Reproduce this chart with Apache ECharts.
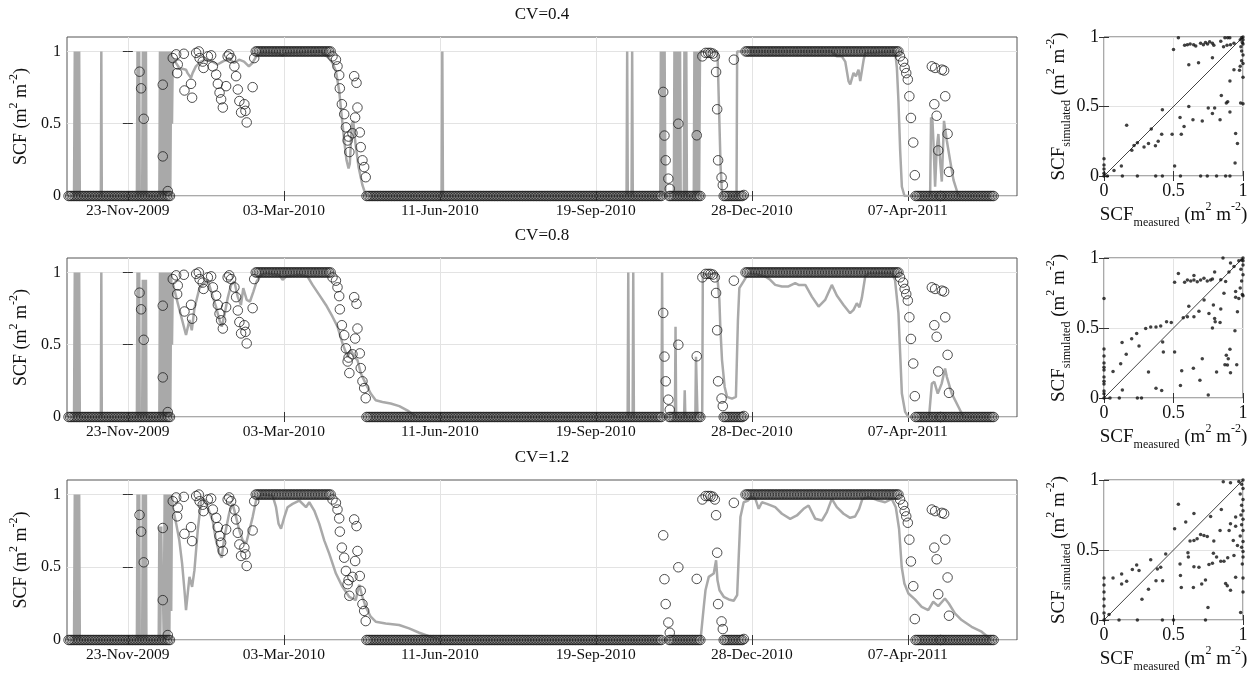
<!DOCTYPE html>
<html>
<head>
<meta charset="utf-8">
<script src="https://cdn.jsdelivr.net/npm/echarts@6.0.0/dist/echarts.min.js"></script>
<style>
  html, body { margin: 0; padding: 0; background: #fff; }
  #main { width: 1258px; height: 675px; }
</style>
</head>
<body>
<div id="main"></div>
<script>
// x axis of the time panels: days counted from 23-Nov-2009
var tickDays = [0, 100, 200, 300, 400, 500];
var tickLabels = ['23-Nov-2009', '03-Mar-2010', '11-Jun-2010', '19-Sep-2010', '28-Dec-2010', '07-Apr-2011'];
var cvTitles = ['CV=0.4', 'CV=0.8', 'CV=1.2'];
var scfTicks = [0, 0.5, 1];

// measured SCF (open circles), same in every panel
// runs of one daily value: [first day, last day, value]
var measuredRuns = [
  [-38, 27, 0], [82, 130, 1], [153, 342, 0], [347, 367, 0],
  [382, 394, 0], [396, 494, 1], [505, 555, 0]
];
// single readings: [day, value]
var measuredPoints = [
  [7.5, 0.86], [8.5, 0.745], [10.2, 0.534], [22.4, 0.77], [22.4, 0.274], [25.6, 0.034],
  [28.8, 0.954], [31, 0.98], [31.6, 0.85], [32, 0.91], [35.9, 0.984], [36.3, 0.73],
  [40.5, 0.776], [41.2, 0.68], [43.8, 0.99], [45.5, 1.0], [46, 0.954], [48, 0.93],
  [48.5, 0.886], [51.3, 0.966], [53.4, 0.973], [54.5, 0.897], [56.6, 0.84], [57.7, 0.776],
  [58.8, 0.715], [59.8, 0.669], [60.9, 0.612], [63, 0.76], [64, 0.966], [65, 0.98],
  [66.2, 0.954], [68.3, 0.897], [69.4, 0.829], [70.5, 0.737], [71.5, 0.657], [72.6, 0.578],
  [74.7, 0.635], [75.4, 0.589], [76.2, 0.509], [80, 0.753], [81, 0.954],
  [131.2, 0.966], [133.4, 0.943], [134.4, 0.897], [135.5, 0.836], [135.9, 0.745],
  [137.2, 0.635], [138.7, 0.566], [139.8, 0.475], [140.9, 0.384], [141.5, 0.411],
  [142, 0.304], [144, 0.434], [145.1, 0.829], [145.7, 0.543], [146.6, 0.783],
  [147.2, 0.612], [148.7, 0.44], [149.3, 0.338], [150.4, 0.247], [151.5, 0.2], [152.5, 0.13],
  [343.2, 0.72], [344, 0.418], [344.8, 0.247], [346.5, 0.12], [347.4, 0.05], [352.9, 0.5],
  [364.7, 0.42], [368.3, 0.966], [370.4, 0.99], [372, 0.99], [373.5, 0.99], [375, 0.985],
  [376.3, 0.966], [377.1, 0.858], [377.8, 0.6], [378.4, 0.247], [380.6, 0.128],
  [381.4, 0.075], [388.5, 0.943], [394.9, 0.007],
  [495, 0.966], [497, 0.93], [498, 0.886], [499, 0.85], [500, 0.806], [501, 0.69],
  [502, 0.54], [503.5, 0.37], [504.5, 0.144], [515.4, 0.897], [517.5, 0.886],
  [521.8, 0.874], [523.3, 0.868], [524, 0.69], [517, 0.635], [518.5, 0.555],
  [519.5, 0.315], [525.5, 0.43], [526.4, 0.167], [521, 0]
];

// simulated SCF (grey line): [day, value] vertices
var simCv04 = [
  [-38, 0], [-34.5, 0], [-34, 1], [-33.3, 0], [-32.6, 1], [-31.9, 0], [-31.2, 1], [-30.8, 0],
  [-17.3, 0], [-17, 1], [-16.7, 0],
  [5.8, 0], [6.2, 1], [6.8, 0], [7.3, 1], [7.6, 0],
  [9.2, 0], [9.6, 1], [10.2, 0], [10.7, 1], [11.2, 0], [11.6, 1], [11.9, 0],
  [20.2, 0], [20.6, 1], [21.2, 0], [21.8, 1], [22.4, 0], [23, 1], [23.6, 0], [24.2, 1],
  [24.8, 0], [25.4, 1], [26, 0], [26.6, 1], [27.2, 0], [27.8, 1], [28.3, 0.5], [28.8, 0.954],
  [33, 0.886], [37.3, 0.874], [38.3, 0.85], [40.5, 0.817], [41.5, 0.85], [43.6, 0.897],
  [46.8, 0.93], [50, 0.943], [54.3, 0.93], [57.5, 0.91], [60.7, 0.93], [65, 0.954],
  [68.1, 0.92], [71.3, 0.943], [74.5, 0.93], [77.6, 0.897], [79.8, 0.92], [83, 0.977],
  [85, 0.995], [97, 0.99], [99, 0.97], [101, 0.99], [124, 1], [126, 0.977], [129, 0.954],
  [131.2, 0.92], [133.4, 0.863], [135.5, 0.726], [137.2, 0.543], [138.7, 0.384],
  [140.2, 0.247], [141.5, 0.19], [142.3, 0.224], [143.6, 0.498], [144.5, 0.52],
  [145.7, 0.384], [147.9, 0.2], [150.4, 0.075], [152.5, 0.007], [154, 0],
  [201.2, 0], [201.6, 1], [202, 0],
  [319.7, 0], [320.1, 1], [320.5, 0], [322.9, 0], [323.3, 1], [323.7, 0],
  [341.3, 0], [341.7, 1], [342.3, 0], [342.9, 1], [343.5, 0], [344.1, 1], [344.6, 0],
  [350, 0], [350.4, 1], [351, 0], [351.6, 1], [352.2, 0], [352.8, 1], [353.4, 0], [354, 1], [354.4, 0],
  [356.4, 0], [356.8, 1], [357.4, 0], [358, 1], [358.4, 0],
  [362.8, 0], [363.2, 1], [363.8, 0], [364.4, 1], [365, 0], [365.6, 1], [366.2, 0], [366.8, 1],
  [378, 1], [379, 0.6], [380, 0.2], [381, 0],
  [390.2, 0], [390.6, 1], [398, 1],
  [451.3, 1], [454.5, 0.966], [457.7, 0.966], [459.9, 0.93], [462, 0.795], [463.1, 0.772],
  [465.2, 0.852], [466.7, 0.829], [468.4, 0.874], [469.5, 0.795], [471.7, 0.943],
  [472.7, 0.989], [491.9, 1], [493, 0.886], [494, 0.657], [495.1, 0.315], [496.2, 0.064],
  [497.9, 0], [514.3, 0], [514.9, 0.543], [515.8, 0.52], [516.4, 0.384], [517.5, 0.064],
  [518.6, 0.338], [519.6, 0.429], [520.7, 0.247], [521.8, 0.1], [523.2, 0.52], [523.9, 0.532],
  [525, 0.384], [527.1, 0.247], [529.3, 0.11], [532.5, 0], [555, 0]
];
var simCv08 = [
  [-38, 0], [-34.5, 0], [-34, 1], [-33.3, 0], [-32.6, 1], [-31.9, 0], [-31.2, 1], [-30.8, 0],
  [-17.3, 0], [-17, 1], [-16.7, 0],
  [5.8, 0], [6.2, 1], [6.8, 0], [7.3, 1], [7.6, 0],
  [9.2, 0], [9.6, 0.95], [10.2, 0], [10.7, 0.95], [11.2, 0], [11.6, 0.95], [11.9, 0],
  [20.2, 0], [20.6, 1], [21.2, 0], [21.8, 1], [22.4, 0], [23, 1], [23.6, 0], [24.2, 1],
  [24.8, 0], [25.4, 1], [26, 0], [26.6, 1], [27.2, 0], [27.8, 1], [28.3, 0.5], [28.8, 0.926],
  [32, 0.787], [34.8, 0.671], [37.3, 0.567], [39.5, 0.671], [41, 0.6], [42.7, 0.752],
  [45.9, 0.891], [49.1, 0.926], [51.2, 0.949], [54.4, 0.833], [56.5, 0.764], [58.7, 0.671],
  [60.2, 0.625], [61.9, 0.706], [64, 0.822], [66.2, 0.914], [68.3, 0.938], [70.4, 0.833],
  [72.5, 0.775], [74, 0.891], [76.2, 0.81], [78.3, 0.799], [80.5, 0.868], [82.6, 0.938],
  [85.4, 0.984], [88.6, 0.995], [97.1, 0.984], [99.2, 0.949], [101.4, 0.972], [109.9, 0.984],
  [115.2, 0.972], [118.4, 0.914], [122.7, 0.845], [127, 0.775], [131.2, 0.694],
  [134.4, 0.625], [137.6, 0.509], [140.8, 0.417], [143, 0.463], [145.1, 0.417],
  [147.2, 0.394], [149.4, 0.301], [152.5, 0.231], [155.7, 0.162], [158.9, 0.116],
  [163.2, 0.104], [168.5, 0.093], [174, 0.075], [180, 0.04], [185, 0],
  [320.4, 0], [320.8, 1], [321.2, 0], [323.6, 0], [324, 1], [324.4, 0],
  [342.1, 0], [342.5, 1], [342.9, 0],
  [350.7, 0], [351.1, 0.625], [351.5, 0],
  [356.6, 0], [357, 0.185], [357.4, 0],
  [363.8, 0], [364.2, 0.417], [364.8, 0.417], [365.2, 0],
  [368.2, 0], [368.6, 0.984], [377.7, 0.995], [379.2, 0.81], [379.8, 0.625], [380.9, 0.394],
  [382.6, 0.208], [384.1, 0.139], [387.3, 0.127], [389.8, 0.139], [391.1, 0.671],
  [392, 0.891], [394.7, 0.938], [397.9, 0.995], [402.2, 0.99], [408.6, 0.972],
  [411.8, 0.949], [415, 0.914], [419.3, 0.903], [423.5, 0.903], [427.8, 0.926],
  [430, 0.914], [434.3, 0.914], [438.5, 0.833], [442.8, 0.764], [447, 0.81], [451.3, 0.914],
  [454.5, 0.84], [458.8, 0.775], [463, 0.718], [465.2, 0.741], [467.3, 0.787], [469, 0.759],
  [470.5, 0.822], [472.7, 0.972], [474.8, 0.995], [489.7, 0.995], [491.8, 0.949],
  [494, 0.718], [495.1, 0.44], [496.2, 0.162], [498.3, 0.035], [500.4, 0], [513.6, 0],
  [515.4, 0.231], [517, 0.243], [519.2, 0.162], [521.7, 0.231], [523.9, 0.336], [525, 0.278],
  [528.2, 0.162], [532.5, 0.069], [535.7, 0], [555, 0]
];
var simCv12 = [
  [-38, 0], [-34.5, 0], [-34, 1], [-33.3, 0], [-32.6, 1], [-31.9, 0], [-31.2, 1], [-30.8, 0],
  [5.8, 0], [6.2, 1], [6.8, 0], [7.3, 1], [7.6, 0],
  [9.2, 0], [9.6, 1], [10.2, 0], [10.7, 1], [11.2, 0], [11.6, 1], [11.9, 0],
  [19.8, 0], [20.2, 0.78], [20.8, 0], [21.4, 0.78], [22, 0.25], [22.6, 0.28], [23, 0],
  [23.6, 1], [24.2, 0], [24.8, 1], [25.4, 0], [26, 1], [26.6, 0], [27.2, 1], [27.8, 0.2],
  [28.3, 1], [28.8, 0.913],
  [31, 0.8], [33, 0.685], [34.8, 0.525], [36.3, 0.342], [37.3, 0.205], [38.4, 0.32],
  [39.5, 0.434], [41.2, 0.365], [42.7, 0.48], [44.8, 0.753], [47, 0.959], [49.1, 0.97],
  [51.2, 0.913], [54.4, 0.822], [56.5, 0.685], [58.7, 0.594], [60.2, 0.566], [61.9, 0.708],
  [65.1, 0.879], [67.2, 0.936], [69.4, 0.845], [71.5, 0.753], [73.6, 0.685], [75.8, 0.662],
  [77.9, 0.753], [80, 0.845], [82.2, 0.959], [85.4, 1], [92.8, 0.993], [95, 0.913],
  [96.6, 0.8], [98.2, 0.765], [100.3, 0.845], [102.4, 0.913], [105.6, 0.936], [109.9, 0.959],
  [114.2, 0.913], [116.3, 0.947], [119.5, 0.89], [122.7, 0.8], [125.9, 0.685], [129.1, 0.594],
  [133.4, 0.457], [137.6, 0.365], [141.9, 0.297], [146.1, 0.274], [148.3, 0.38],
  [150.4, 0.297], [152.5, 0.228], [155.7, 0.16], [158.9, 0.126], [165.3, 0.114],
  [173.9, 0.103], [180.3, 0.08], [186.8, 0.05], [195.3, 0.018], [201.7, 0],
  [367.1, 0], [369.2, 0.228], [370.3, 0.342], [372.4, 0.434], [375.6, 0.457], [377.1, 0.548],
  [378, 0.41], [379.3, 0.342], [382, 0.297], [385.2, 0.279], [388.4, 0.27], [390.6, 0.308],
  [391.6, 0.571], [392.7, 0.845], [394.8, 0.947], [397.6, 0.959], [399.7, 0.986],
  [402.3, 0.97], [404.4, 0.902], [406.5, 0.947], [409.7, 0.936], [415, 0.913], [419.3, 0.868],
  [424.6, 0.833], [428.9, 0.856], [433.2, 0.902], [436.4, 0.925], [440.7, 0.833], [445, 0.822],
  [448.1, 0.879], [451.3, 0.97], [454.5, 0.913], [458.8, 0.868], [463, 0.84], [466.2, 0.849],
  [468.8, 0.902], [470.9, 0.97], [474.8, 0.982], [480.1, 0.963], [485.5, 0.947],
  [489.7, 0.97], [492.3, 0.913], [494.4, 0.765], [496.1, 0.502], [497.8, 0.388], [500.4, 0.32],
  [504.6, 0.279], [508.9, 0.228], [513.1, 0.205], [516.3, 0.263], [519.5, 0.233],
  [523.8, 0.285], [526.3, 0.251], [530.2, 0.183], [534.5, 0.137], [540.9, 0.091],
  [547.3, 0.057], [553.7, 0], [555, 0]
];

// right column: [measured, simulated]
var scatterCv04 = [
  [0.535, 0.995], [0.5, 0.91], [0.58, 0.94], [0.6, 0.945], [0.62, 0.95], [0.645, 0.945],
  [0.66, 0.935], [0.695, 0.955], [0.715, 0.945], [0.73, 0.96], [0.745, 0.95], [0.76, 0.965],
  [0.78, 0.955], [0.79, 0.94], [0.84, 0.97], [0.86, 0.93], [0.885, 0.94], [0.91, 0.945],
  [0.935, 0.955], [0.87, 0.995], [0.89, 0.995], [0.905, 0.995], [0.98, 0.98], [0.985, 0.93],
  [0.99, 0.9], [1, 0.87], [0.99, 0.83], [1, 0.81], [0.98, 0.79], [0.975, 0.76], [1, 0.71],
  [1, 0.95], [1, 1], [0.99, 0.995], [1, 0.98], [0.995, 0.96], [0.78, 0.85], [0.61, 0.8],
  [0.68, 0.815], [0.935, 0.765], [0.906, 0.683], [0.844, 0.58], [0.983, 0.525], [0.88, 0.525],
  [0.89, 0.535], [0.75, 0.49], [0.796, 0.49], [0.78, 0.45], [0.835, 0.405], [0.906, 0.46],
  [0.61, 0.5], [0.42, 0.477], [0.547, 0.42], [0.64, 0.405], [0.707, 0.395], [0.163, 0.365],
  [0.576, 0.357], [0.34, 0.338], [0.415, 0.3], [0.49, 0.3], [0.556, 0.3], [0.39, 0.25],
  [0.37, 0.218], [0.32, 0.233], [0.288, 0.209], [0.24, 0.24], [0.216, 0.22], [0.2, 0.185],
  [0.947, 0.305], [0.96, 0.233], [0.943, 0.094], [0.508, 0.072], [0.125, 0.072],
  [0.072, 0.04], [0, 0.125], [0, 0.08], [0, 0.05], [0, 0.02], [0, 0], [0.024, 0], [0.132, 0],
  [0.24, 0], [0.372, 0], [0.42, 0], [0.55, 0], [0.695, 0], [0.743, 0], [0.81, 0], [0.875, 0],
  [0.906, 0], [1, 0.52]
];
var scatterCv08 = [
  [0.856, 1], [0.91, 0.964], [0.97, 0.98], [0.99, 0.985], [1, 0.95], [0.985, 0.92], [1, 0.88],
  [0.99, 0.835], [0.98, 0.785], [0.995, 0.74], [1, 0.73], [0.947, 0.72], [0.97, 0.71],
  [1, 1], [1, 0.98], [0.535, 0.89], [0.508, 0.827], [0.58, 0.827], [0.6, 0.843],
  [0.624, 0.836], [0.647, 0.843], [0.671, 0.83], [0.695, 0.843], [0.719, 0.856],
  [0.743, 0.836], [0.767, 0.843], [0.78, 0.85], [0.796, 0.9], [0.647, 0.875], [0.84, 0.844],
  [0.875, 0.832], [0.899, 0.9], [0.935, 0.94], [0.863, 0.748], [0.947, 0.76], [0.72, 0.7],
  [0.787, 0.664], [0.61, 0.655], [0.683, 0.62], [0.755, 0.604], [0.84, 0.635], [0.96, 0.616],
  [0.57, 0.573], [0.6, 0.58], [0.647, 0.58], [0.796, 0.568], [0.8, 0.544], [0.835, 0.54],
  [0.45, 0.544], [0.484, 0.54], [0.408, 0.515], [0.374, 0.508], [0.336, 0.508], [0.3, 0.496],
  [0.78, 0.5], [0.942, 0.48], [0.235, 0.46], [0.199, 0.424], [0.422, 0.4], [0.13, 0.396],
  [0.252, 0.372], [0.906, 0.348], [0.427, 0.329], [0.508, 0.329], [0.16, 0.312], [0.88, 0.305],
  [0.894, 0.28], [0.707, 0.28], [0.12, 0.245], [0.87, 0.237], [0.955, 0.237], [0.888, 0.235],
  [0.643, 0.213], [0.559, 0.194], [0.81, 0.185], [0.32, 0.185], [0.065, 0.19], [0.91, 0.18],
  [0.69, 0.127], [0.55, 0.089], [0.374, 0.07], [0.415, 0.053], [0.132, 0.058], [0.75, 0.022],
  [0.043, 0], [0.11, 0], [0.24, 0], [0.27, 0], [0, 0], [0, 0.03], [0, 0.05], [0, 0.1],
  [0, 0.12], [0, 0.15], [0, 0.2], [0, 0.22], [0, 0.25], [0, 0.3], [0, 0.35], [0, 0.71]
];
var scatterCv12 = [
  [0.858, 0.988], [0.91, 0.98], [0.97, 0.99], [0.99, 0.97], [1, 0.94], [0.98, 0.9], [1, 0.86],
  [0.99, 0.82], [1, 0.78], [0.985, 0.75], [1, 0.72], [0.99, 0.68], [1, 0.64], [0.98, 0.6],
  [1, 0.56], [0.99, 0.52], [1, 0.49], [1, 0.45], [0.995, 0.4], [1, 0.3], [1, 0.2], [1, 1],
  [0.535, 0.827], [0.647, 0.76], [0.588, 0.7], [0.508, 0.652], [0.767, 0.74], [0.844, 0.79],
  [0.947, 0.736], [0.947, 0.67], [0.91, 0.688], [0.9, 0.64], [0.695, 0.61], [0.719, 0.604],
  [0.743, 0.597], [0.835, 0.64], [0.619, 0.564], [0.647, 0.568], [0.67, 0.58], [0.79, 0.564],
  [0.93, 0.568], [0.96, 0.532], [0.604, 0.48], [0.607, 0.45], [0.787, 0.477], [0.81, 0.45],
  [0.84, 0.42], [0.863, 0.42], [0.89, 0.444], [0.935, 0.46], [0.444, 0.472], [0.336, 0.43],
  [0.235, 0.393], [0.204, 0.36], [0.547, 0.4], [0.647, 0.38], [0.683, 0.377], [0.755, 0.396],
  [0.78, 0.405], [0.384, 0.364], [0.408, 0.376], [0.127, 0.329], [0.127, 0.257], [0.065, 0.3],
  [0.163, 0.276], [0.252, 0.353], [0.55, 0.317], [0.374, 0.28], [0.422, 0.28], [0.703, 0.257],
  [0.73, 0.285], [0.875, 0.261], [0.887, 0.245], [0.91, 0.213], [0.947, 0.305], [0.32, 0.22],
  [0.556, 0.233], [0.643, 0.233], [0.273, 0.149], [0.748, 0.089], [0.983, 0.053], [0, 0],
  [0.108, 0], [0.24, 0], [0.42, 0], [0.5, 0], [0.73, 0], [0.036, 0.04], [0, 0.05], [0, 0.1],
  [0, 0.15], [0, 0.2], [0, 0.25], [0, 0.3]
];
var oneToOne = [[0, 0], [1, 1]];

function expandRuns(runs, points) {
  var out = [];
  runs.forEach(function (r) {
    for (var d = r[0]; d <= r[1]; d++) out.push([d, r[2]]);
  });
  return out.concat(points);
}

var FONT = 'Liberation Serif';
var INK = '#111';
var measured = expandRuns(measuredRuns, measuredPoints);
var sims = [simCv04, simCv08, simCv12];
var scatters = [scatterCv04, scatterCv08, scatterCv12];
var rowTop = [37, 258, 480];
var rowH = [159, 159, 160];
var sqH = [139, 140, 140];

var grids = [], xAxes = [], yAxes = [], series = [], titles = [];

var tick = function (vals) {
  return { inside: true, length: 5, customValues: vals, lineStyle: { color: '#333', width: 1 } };
};
var split = { show: true, lineStyle: { color: '#e3e3e3', width: 1 } };
var labelStyle = function (size, margin, vals, fmt) {
  var o = { fontFamily: FONT, fontSize: size, color: INK, margin: margin, customValues: vals };
  if (fmt) o.formatter = fmt;
  return o;
};
var dayLabel = function (v) {
  var k = tickDays.indexOf(v);
  return k < 0 ? '' : tickLabels[k];
};
var scfName = '{t|SCF (m}{p|2}{t| m}{p|-2}{t|)}';
var richT = function (size, lh) {
  return {
    t: { fontFamily: FONT, fontSize: size, color: INK, lineHeight: lh, verticalAlign: 'middle' },
    p: { fontFamily: FONT, fontSize: 12, color: INK, lineHeight: 12, verticalAlign: 'top' },
    s: { fontFamily: FONT, fontSize: 12, color: INK, lineHeight: 12, verticalAlign: 'bottom' }
  };
};

for (var i = 0; i < 3; i++) {
  // time series panel
  var g = grids.length;
  grids.push({ left: 67, top: rowTop[i], width: 950, height: rowH[i], show: true,
    borderColor: '#555', borderWidth: 1, backgroundColor: '#fff' });
  var xb = xAxes.length;
  xAxes.push({ type: 'value', gridIndex: g, min: -39, max: 570, position: 'bottom',
    axisLine: { show: false }, axisTick: tick(tickDays),
    axisLabel: labelStyle(15.5, 7, tickDays, dayLabel), splitLine: split });
  xAxes.push({ type: 'value', gridIndex: g, min: -39, max: 570, position: 'top',
    axisLine: { show: false }, axisTick: tick(tickDays), axisLabel: { show: false },
    splitLine: { show: false } });
  var yl = yAxes.length;
  yAxes.push({ type: 'value', gridIndex: g, min: 0, max: 1.1, interval: 0.5, position: 'left',
    axisLine: { show: false }, axisTick: tick(scfTicks),
    axisLabel: labelStyle(16, 6, scfTicks), splitLine: split,
    name: scfName, nameLocation: 'middle', nameGap: 27,
    nameTextStyle: { rich: richT(18, 26) } });
  yAxes.push({ type: 'value', gridIndex: g, min: 0, max: 1.1, interval: 0.5, position: 'right',
    axisLine: { show: false }, axisTick: tick(scfTicks), axisLabel: { show: false },
    splitLine: { show: false } });
  titles.push({ text: cvTitles[i], left: 542, top: rowTop[i] - 31, textAlign: 'center', padding: 0,
    textStyle: { fontFamily: FONT, fontSize: 17, fontWeight: 'normal', color: INK } });
  series.push({ type: 'line', xAxisIndex: xb, yAxisIndex: yl, data: sims[i], showSymbol: false,
    lineStyle: { color: '#a9a9a9', width: 2.5 }, z: 2, silent: true });
  series.push({ type: 'scatter', xAxisIndex: xb, yAxisIndex: yl, data: measured, symbol: 'circle',
    symbolSize: 9.5, itemStyle: { color: 'rgba(0,0,0,0)', borderColor: '#222', borderWidth: 1 },
    z: 3, silent: true });

  // measured vs simulated panel
  var gs = grids.length;
  grids.push({ left: 1104, top: rowTop[i], width: 139, height: sqH[i], show: true,
    borderColor: '#555', borderWidth: 1, backgroundColor: '#fff' });
  var sx = xAxes.length;
  xAxes.push({ type: 'value', gridIndex: gs, min: 0, max: 1, interval: 0.5, position: 'bottom',
    axisLine: { show: false }, axisTick: tick(scfTicks), axisLabel: labelStyle(18, 6, scfTicks),
    splitLine: split,
    name: '{t|SCF}{s|measured}{t| (m}{p|2}{t| m}{p|-2}{t|)}', nameLocation: 'middle', nameGap: 23,
    nameTextStyle: { rich: richT(19, 28) } });
  xAxes.push({ type: 'value', gridIndex: gs, min: 0, max: 1, interval: 0.5, position: 'top',
    axisLine: { show: false }, axisTick: tick(scfTicks), axisLabel: { show: false },
    splitLine: { show: false } });
  var sy = yAxes.length;
  yAxes.push({ type: 'value', gridIndex: gs, min: 0, max: 1, interval: 0.5, position: 'left',
    axisLine: { show: false }, axisTick: tick(scfTicks), axisLabel: labelStyle(18, 5, scfTicks),
    splitLine: split,
    name: '{t|SCF}{s|simulated}{t| (m}{p|2}{t| m}{p|-2}{t|)}', nameLocation: 'middle', nameGap: 31,
    nameTextStyle: { rich: richT(19, 28) } });
  yAxes.push({ type: 'value', gridIndex: gs, min: 0, max: 1, interval: 0.5, position: 'right',
    axisLine: { show: false }, axisTick: tick(scfTicks), axisLabel: { show: false },
    splitLine: { show: false } });
  series.push({ type: 'line', xAxisIndex: sx, yAxisIndex: sy, data: oneToOne, showSymbol: false,
    lineStyle: { color: '#444', width: 1 }, z: 2, silent: true });
  series.push({ type: 'scatter', xAxisIndex: sx, yAxisIndex: sy, data: scatters[i],
    symbol: 'circle', symbolSize: 3.5, itemStyle: { color: '#111' }, z: 3, silent: true });
}

var chart = echarts.init(document.getElementById('main'));
chart.setOption({
  backgroundColor: '#fff',
  animation: false,
  title: titles,
  grid: grids,
  xAxis: xAxes,
  yAxis: yAxes,
  series: series
});
</script>
</body>
</html>
